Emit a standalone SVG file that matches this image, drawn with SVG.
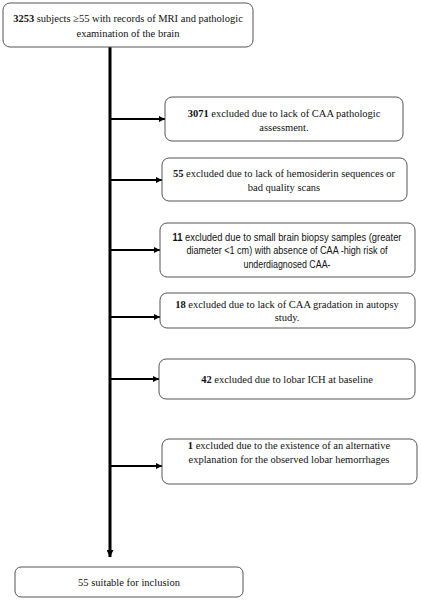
<svg xmlns="http://www.w3.org/2000/svg" width="421" height="601" viewBox="0 0 421 601">
<style>
.box{fill:#fff;stroke:#555;stroke-width:1}
.t{font-family:"Liberation Serif","Times New Roman",serif;font-size:10.5px;fill:#111;text-anchor:middle}
.c{font-family:"Liberation Sans",Arial,sans-serif;font-size:10px;fill:#111;text-anchor:middle}
.b{font-weight:bold}
.ln{stroke:#000;stroke-width:2;fill:none}
</style>
<defs>
<marker id="ah" viewBox="0 0 10 10" refX="10" refY="5" markerWidth="6" markerHeight="6" orient="auto" markerUnits="userSpaceOnUse">
<path d="M0,0 L10,5 L0,10 z" fill="#000"/>
</marker>
<marker id="ahv" viewBox="0 0 10 10" refX="10" refY="5" markerWidth="7" markerHeight="7" orient="auto" markerUnits="userSpaceOnUse">
<path d="M0,0 L10,5 L0,10 z" fill="#000"/>
</marker>
</defs>
<g id="connectors">
<line class="ln" x1="110" y1="47" x2="110" y2="557" style="stroke-width:3" marker-end="url(#ahv)"/>
<line class="ln" x1="110" y1="119" x2="165" y2="119" marker-end="url(#ah)"/>
<line class="ln" x1="110" y1="180" x2="162" y2="180" marker-end="url(#ah)"/>
<line class="ln" x1="110" y1="250" x2="160" y2="250" marker-end="url(#ah)"/>
<line class="ln" x1="110" y1="317" x2="160" y2="317" marker-end="url(#ah)"/>
<line class="ln" x1="110" y1="379" x2="159" y2="379" marker-end="url(#ah)"/>
<line class="ln" x1="110" y1="466" x2="162" y2="466" marker-end="url(#ah)"/>
</g>
<g id="n0">
<rect class="box" x="3" y="3" width="250" height="44" rx="7"/>
<text class="t" x="128" y="22"><tspan class="b">3253</tspan> subjects ≥55 with records of MRI and pathologic</text>
<text class="t" x="128" y="37">examination of the brain</text>
</g>
<g id="n1">
<rect class="box" x="165" y="97" width="238" height="44" rx="7"/>
<text class="t" x="284" y="117"><tspan class="b">3071</tspan> excluded due to lack of CAA pathologic</text>
<text class="t" x="284" y="131">assessment.</text>
</g>
<g id="n2">
<rect class="box" x="162" y="158" width="245" height="43" rx="7"/>
<text class="t" x="284" y="177"><tspan class="b">55</tspan> excluded due to lack of hemosiderin sequences or</text>
<text class="t" x="284" y="191">bad quality scans</text>
</g>
<g id="n3">
<rect class="box" x="160" y="223" width="255" height="54" rx="7"/>
<text class="c" x="287" y="241" textLength="229" lengthAdjust="spacingAndGlyphs"><tspan class="b">11</tspan> excluded due to small brain biopsy samples (greater</text>
<text class="c" x="287" y="254" textLength="201" lengthAdjust="spacingAndGlyphs">diameter &lt;1 cm) with absence of CAA -high risk of</text>
<text class="c" x="287" y="268" textLength="87" lengthAdjust="spacingAndGlyphs">underdiagnosed CAA-</text>
</g>
<g id="n4">
<rect class="box" x="160" y="293" width="255" height="35" rx="7"/>
<text class="t" x="287" y="308"><tspan class="b">18</tspan> excluded due to lack of CAA gradation in  autopsy</text>
<text class="t" x="287" y="321">study.</text>
</g>
<g id="n5">
<rect class="box" x="159" y="359" width="256" height="40" rx="7"/>
<text class="t" x="287" y="383"><tspan class="b">42</tspan> excluded due to lobar ICH at baseline</text>
</g>
<g id="n6">
<rect class="box" x="162" y="439" width="255" height="45" rx="7"/>
<text class="t" x="289" y="449"><tspan class="b">1</tspan> excluded due to the existence of an alternative</text>
<text class="t" x="289" y="463">explanation for the observed lobar hemorrhages</text>
</g>
<g id="n7">
<rect class="box" x="15" y="567" width="228" height="30" rx="6"/>
<text class="t" x="129" y="586">55 suitable for inclusion</text>
</g>
</svg>
